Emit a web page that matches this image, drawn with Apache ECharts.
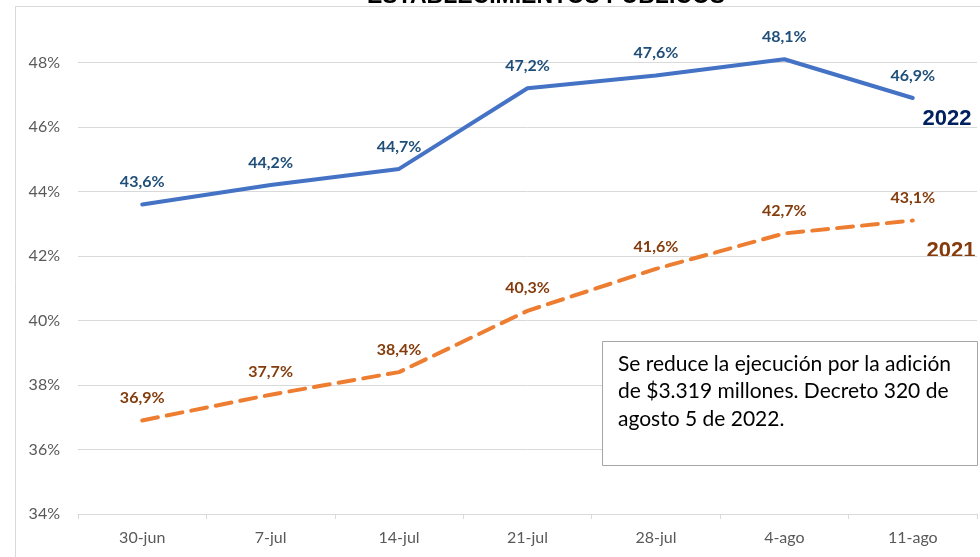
<!DOCTYPE html>
<html>
<head>
<meta charset="utf-8">
<script src="https://cdn.jsdelivr.net/npm/echarts@6/dist/echarts.min.js"></script>
<style>
  html, body { margin: 0; padding: 0; background: #fff; }
  #chart { width: 980px; height: 557px; }
</style>
</head>
<body>
<div id="chart"></div>
<script>
  var categories = ['30-jun', '7-jul', '14-jul', '21-jul', '28-jul', '4-ago', '11-ago']
  var values2022 = [43.6, 44.2, 44.7, 47.2, 47.6, 48.1, 46.9]
  var values2021 = [36.9, 37.7, 38.4, 40.3, 41.6, 42.7, 43.1]
  var yTicks = { min: 34, max: 50, step: 2 }
  var titleText = 'ESTABLECIMIENTOS PUBLICOS'
  var noteLines = [
    'Se reduce la ejecución por la adición',
    'de $3.319 millones. Decreto 320 de',
    'agosto 5 de 2022.'
  ]

  var myChart = echarts.init(document.getElementById('chart'))

  function pct (v) {
    return v.toFixed(1).replace('.', ',') + '%'
  }

  function lineSeries (name, data, lineColor, labelColor, dash) {
    return {
      name: name,
      type: 'line',
      data: data,
      symbol: 'circle',
      symbolSize: 1,
      showSymbol: true,
      itemStyle: { color: lineColor, opacity: 0 },
      lineStyle: { color: lineColor, width: 4, type: dash, cap: 'round' },
      label: {
        show: true, position: 'top', distance: 14, opacity: 1,
        color: labelColor, fontFamily: 'Lato', fontWeight: 'bold', fontSize: 16,
        formatter: function (p) { return pct(p.value) }
      }
    }
  }

  var option = {
    animation: false,
    grid: { left: 78, right: 3, top: -2, bottom: 43, containLabel: false, outerBoundsMode: 'none' },
    xAxis: {
      type: 'category',
      data: categories,
      boundaryGap: true,
      axisLine: { lineStyle: { color: '#D9D9D9', width: 1 } },
      axisTick: { show: true, length: 5, lineStyle: { color: '#D9D9D9' } },
      axisLabel: { color: '#595959', fontFamily: 'Lato', fontSize: 16, margin: 16 }
    },
    yAxis: {
      type: 'value',
      min: yTicks.min,
      max: yTicks.max,
      interval: yTicks.step,
      axisLine: { show: false },
      axisTick: { show: false },
      splitLine: { lineStyle: { color: '#D9D9D9', width: 1 } },
      axisLabel: {
        color: '#595959', fontFamily: 'Lato', fontSize: 16, margin: 18, showMaxLabel: false,
        formatter: function (v) { return v + '%' }
      }
    },
    series: [
      lineSeries('2022', values2022, '#4472C4', '#1F4E79', 'solid'),
      lineSeries('2021', values2021, '#ED7D31', '#843C0C', [16, 9])
    ],
    graphic: [
      { type: 'line', shape: { x1: 15.5, y1: 6, x2: 15.5, y2: 557 }, style: { stroke: '#D9D9D9', lineWidth: 1 } },
      { type: 'line', shape: { x1: 15, y1: 6.5, x2: 980, y2: 6.5 }, style: { stroke: '#D9D9D9', lineWidth: 1 } },
      {
        type: 'text', x: 546, y: 8,
        style: { text: titleText, fill: '#000', font: 'bold 23px "Liberation Sans"', align: 'center', verticalAlign: 'bottom' }
      },
      {
        type: 'text', x: 947, y: 119,
        style: { text: '2022', fill: '#002060', font: 'bold 22px "Liberation Sans"', align: 'center', verticalAlign: 'middle' }
      },
      {
        type: 'text', x: 951, y: 251,
        style: { text: '2021', fill: '#843C0C', font: 'bold 22px "Liberation Sans"', align: 'center', verticalAlign: 'middle' }
      },
      {
        type: 'rect', shape: { x: 602.5, y: 341.5, width: 375, height: 124 },
        style: { fill: '#fff', stroke: '#A6A6A6', lineWidth: 1 }, z: 10
      },
      {
        type: 'text', x: 618, y: 350, z: 11,
        style: { text: noteLines.join('\n'), fill: '#000', font: '21px Lato', lineHeight: 27.5, align: 'left', verticalAlign: 'top' }
      }
    ]
  }
  myChart.setOption(option)
</script>
</body>
</html>
